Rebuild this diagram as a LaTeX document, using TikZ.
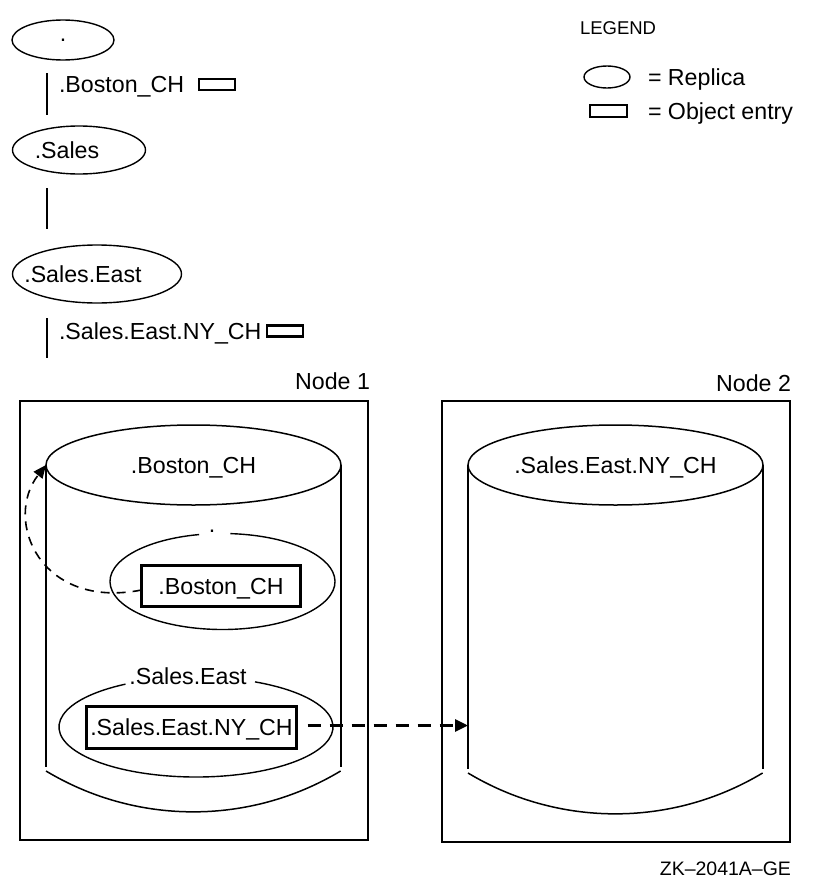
\documentclass[tikz,border=0pt]{standalone}
\usepackage{fontspec}
\setmainfont{Liberation Sans}
\usetikzlibrary{shapes.geometric,arrows.meta}
\begin{document}
\begin{tikzpicture}[x=1pt,y=-1pt,
  every node/.style={font=\fontsize{23.2}{27}\selectfont, inner sep=0pt, outer sep=0pt, text depth=0pt},
  repl/.style={draw, ellipse, line width=1.4pt},
  hidell/.style={ellipse},
  objsmall/.style={draw, line width=2.4pt, minimum width=36pt, minimum height=11pt},
  objbig/.style={draw, line width=3pt},
  treeline/.style={line width=1.8pt},
  nodebox/.style={draw, line width=1.5pt},
  cyltop/.style={draw, ellipse, line width=1.5pt, minimum width=295pt, minimum height=80pt},
  bigdash/.style={line width=3pt, dash pattern=on 13pt off 9pt, -{Triangle[length=13pt,width=12pt]}},
  smalldash/.style={line width=1.6pt, dash pattern=on 9pt off 7pt, -{Triangle[length=13pt,width=11pt]}},
  smallfont/.style={font=\fontsize{18.5}{22}\selectfont}
]
\useasboundingbox (0,0) rectangle (824,886);

% ---------- tree ----------
\node[repl, minimum width=102pt, minimum height=40pt] (root) at (63,40) {.};
\coordinate (t1a) at (47,73);
\coordinate (t1b) at (47,115);
\draw[treeline] (t1a) -- (t1b);
\node[anchor=west] (lbBoston) at (59,84) {.Boston\_CH};
\node[objsmall] (oBoston) at (217,84.5) {};

\node[repl, minimum width=133pt, minimum height=48pt] (sales) at (79,150) {};
\node (salesT) at (67,150) {.Sales};
\coordinate (t2a) at (47,188);
\coordinate (t2b) at (47,229);
\draw[treeline] (t2a) -- (t2b);

\node[repl, minimum width=169pt, minimum height=58pt] (east) at (97,274) {};
\node (eastT) at (83,274) {.Sales.East};
\coordinate (t3a) at (47,318);
\coordinate (t3b) at (47,358);
\draw[treeline] (t3a) -- (t3b);
\node[anchor=west] (lbNY) at (59,331) {.Sales.East.NY\_CH};
\node[objsmall] (oNY) at (285,331) {};

% ---------- legend ----------
\node[smallfont, anchor=west] (legT) at (580,28) {LEGEND};
\node[repl, minimum width=46pt, minimum height=22pt] (legE) at (607,77) {};
\node[anchor=west] (legER) at (648,77) {= Replica};
\node[draw, line width=2pt, minimum width=37pt, minimum height=12pt] (legR) at (608.5,110.5) {};
\node[anchor=west] (legRT) at (648,111) {= Object entry};

% ---------- node boxes ----------
\node[nodebox, minimum width=348pt, minimum height=439pt] (n1) at (194,620.5) {};
\node[anchor=east] (n1lab) at (370,381) {Node 1};
\node[nodebox, minimum width=348pt, minimum height=441pt] (n2) at (616,621.5) {};
\node[anchor=east] (n2lab) at (791,383) {Node 2};
\node[font=\fontsize{19.5}{23}\selectfont, anchor=east] (zk) at (791,869) {ZK--2041A--GE};

% ---------- cylinder 1 ----------
\node[cyltop] (c1top) at (193.5,465) {.Boston\_CH};
\draw[line width=1.5pt] (c1top.west) -- ++(0,302);
\draw[line width=1.5pt] (c1top.east) -- ++(0,302);
\draw[line width=1.5pt] ([yshift=-306pt]c1top.west) arc[start angle=239,end angle=301,radius=286pt];

% inner replica "."
\node[hidell, minimum width=225pt, minimum height=96pt] (in1) at (222.5,581.5) {};
\draw[line width=1.4pt] ([shift={(102:112.5pt and 48pt)}]in1.center) arc[start angle=102,end angle=446,x radius=112.5pt,y radius=48pt];
\node (in1T) at (212,531) {.};
\node[objbig, minimum width=159pt, minimum height=41pt] (r1) at (221,586) {.Boston\_CH};

% inner replica ".Sales.East"
\node[hidell, minimum width=274pt, minimum height=100pt] (in2) at (196,727) {};
\draw[line width=1.4pt] ([shift={(121:137pt and 50pt)}]in2.center) arc[start angle=121,end angle=424.5,x radius=137pt,y radius=50pt];
\node (in2T) at (188,676) {.Sales.East};
\node[objbig, minimum width=210pt, minimum height=42pt] (r2) at (191.5,727.5) {.Sales.East.NY\_CH};

% ---------- cylinder 2 ----------
\node[cyltop] (c2top) at (615.5,465) {.Sales.East.NY\_CH};
\draw[line width=2.4pt] (c2top.west) -- ++(0,304) coordinate (c2bl);
\draw[line width=2.4pt] (c2top.east) -- ++(0,304);
\draw[line width=1.5pt] ([yshift=-308pt]c2top.west) arc[start angle=239,end angle=301,radius=286pt];

% ---------- arrows ----------
\draw[bigdash] ([xshift=11pt,yshift=2pt]r2.east) -- ([yshift=2pt]r2.east -| c2bl);
\draw[smalldash] ([yshift=-4pt]r1.west) .. controls (40,610) and (3,520) .. (c1top.west);
\end{tikzpicture}
\end{document}
